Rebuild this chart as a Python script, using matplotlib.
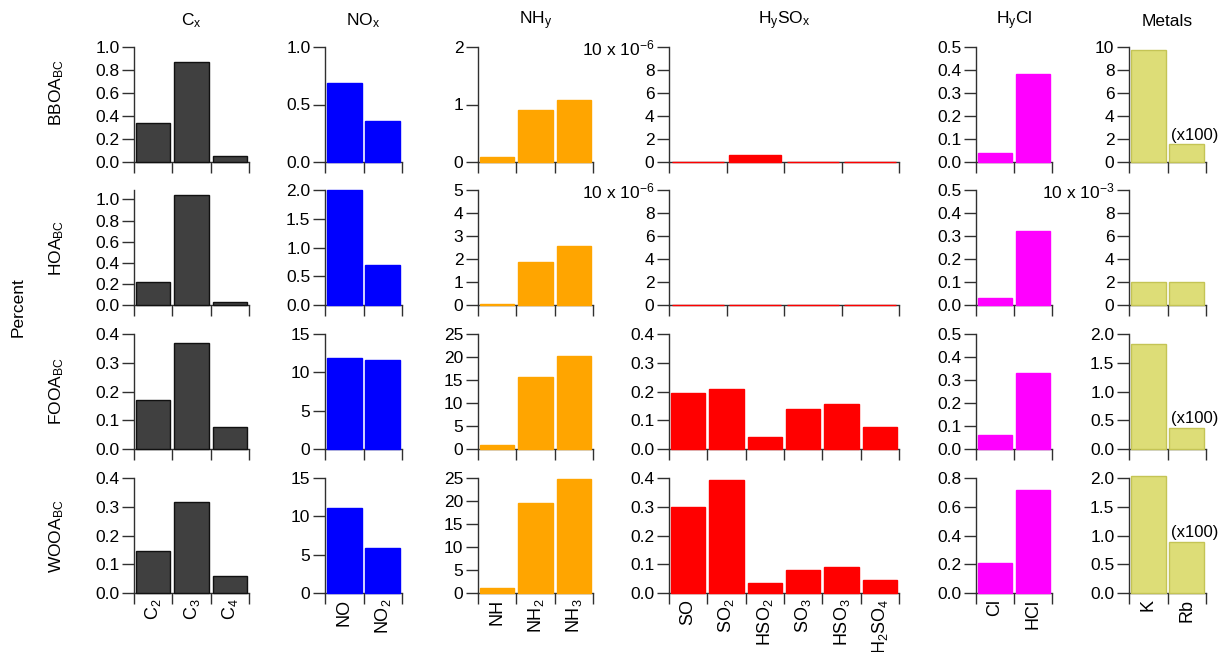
import matplotlib
matplotlib.use("Agg")
import matplotlib.pyplot as plt
import numpy as np
from matplotlib.ticker import FixedLocator, FuncFormatter

plt.rcParams['font.family'] = ['Liberation Sans', 'DejaVu Sans']
plt.rcParams['mathtext.default'] = 'regular'

# ---------------- data ----------------
factors = ['BBOA$_{BC}$', 'HOA$_{BC}$', 'FOOA$_{BC}$', 'WOOA$_{BC}$']
group_titles = ['C$_x$', 'NO$_x$', 'NH$_y$', 'H$_y$SO$_x$', 'H$_y$Cl', 'Metals']

cx_labels = ['C$_2$', 'C$_3$', 'C$_4$']
nox_labels = ['NO', 'NO$_2$']
nhy_labels = ['NH', 'NH$_2$', 'NH$_3$']
hysox_labels = ['SO', 'SO$_2$', 'HSO$_2$', 'SO$_3$', 'HSO$_3$', 'H$_2$SO$_4$']
hycl_labels = ['Cl', 'HCl']
metals_labels = ['K', 'Rb']

cx_values = [[0.336, 0.87, 0.052], [0.215, 1.04, 0.03], [0.17, 0.368, 0.078], [0.146, 0.318, 0.059]]
nox_values = [[0.69, 0.36], [2.0, 0.70], [11.9, 11.65], [11.04, 5.83]]
nhy_values = [[0.09, 0.91, 1.08], [0.05, 1.87, 2.55], [0.87, 15.7, 20.2], [1.15, 19.5, 24.7]]
# BBOA and HOA rows have only four H_ySO_x bins
hysox_values = [[0.0, 0.61e-6, 0.0, 0.0], [0.0, 0.0, 0.0, 0.0],
                [0.194, 0.208, 0.043, 0.138, 0.155, 0.078],
                [0.30, 0.393, 0.034, 0.08, 0.092, 0.045]]
hycl_values = [[0.04, 0.383], [0.03, 0.32], [0.061, 0.33], [0.21, 0.72]]
metals_values = [[9.74, 1.57], [2.0e-3, 2.0e-3], [1.83, 0.37], [2.03, 0.89]]  # Rb shown x100 where flagged
rb_x100 = [True, False, True, True]

# ---------------- layout / style ----------------
W, H = 1225, 652
col_px = [(134, 249), (325, 402), (478, 593), (669, 899), (976, 1052), (1129, 1206)]
row_px = [(47, 162), (190, 305), (334, 449), (478, 593)]
colors = ['#404040', '#0000FF', '#FFA500', '#FF0000', '#FF00FF', '#DDDD77']
edges = ['#111111', '#0000FF', '#FFA500', '#FF0000', '#FF00FF', '#C4C455']
row_label_y = [93, 248, 391, 536]

# y-axis settings per (row, col): (ymax, tick step, decimals, scale exponent)
yspec = [
    [(1.0, 0.2, 1, 0), (1.0, 0.5, 1, 0), (2, 1, 0, 0), (10e-6, 2e-6, 0, -6), (0.5, 0.1, 1, 0), (10, 2, 0, 0)],
    [(1.09, 0.2, 1, 0), (2.0, 0.5, 1, 0), (5, 1, 0, 0), (10e-6, 2e-6, 0, -6), (0.5, 0.1, 1, 0), (10e-3, 2e-3, 0, -3)],
    [(0.4, 0.1, 1, 0), (15, 5, 0, 0), (25, 5, 0, 0), (0.4, 0.1, 1, 0), (0.5, 0.1, 1, 0), (2.0, 0.5, 1, 0)],
    [(0.4, 0.1, 1, 0), (15, 5, 0, 0), (25, 5, 0, 0), (0.4, 0.1, 1, 0), (0.8, 0.2, 1, 0), (2.0, 0.5, 1, 0)],
]

all_values = [cx_values, nox_values, nhy_values, hysox_values, hycl_values, metals_values]
all_labels = [cx_labels, nox_labels, nhy_labels, hysox_labels, hycl_labels, metals_labels]

fig = plt.figure(figsize=(W / 100, H / 100), dpi=100)
spine_col = '#303030'


def make_formatter(step, dec, expo, top):
    def f(v, pos):
        if expo != 0:
            n = int(round(v / 10.0 ** expo))
            if abs(v - top) < step * 0.01:
                return '%d x 10$^{%d}$' % (n, expo)
            return '%d' % n
        return ('%.' + str(dec) + 'f') % v
    return FuncFormatter(f)


for r in range(4):
    t, b = row_px[r]
    for c in range(6):
        l, rr = col_px[c]
        ax = fig.add_axes([l / W, 1 - b / H, (rr - l) / W, (b - t) / H])
        vals = all_values[c][r]
        n = len(vals)
        x = np.arange(n) + 0.5
        ax.bar(x, vals, width=0.9, color=colors[c], edgecolor=edges[c],
               linewidth=1.0, zorder=3, clip_on=False)
        ax.set_xlim(0, n)
        ymax, step, dec, expo = yspec[r][c]
        ax.set_ylim(0, ymax)
        ticks = np.arange(0, ymax + step * 0.01, step)
        ax.yaxis.set_major_locator(FixedLocator(ticks))
        ax.yaxis.set_major_formatter(make_formatter(step, dec, expo, ticks[-1]))
        for s in ['top', 'right']:
            ax.spines[s].set_visible(False)
        for s in ['left', 'bottom']:
            ax.spines[s].set_color(spine_col)
            ax.spines[s].set_linewidth(1.0)
        ax.tick_params(axis='y', direction='out', length=8.5, width=1.0, pad=2,
                       labelsize=12.5, color=spine_col)
        ax.set_xticks(np.arange(n + 1))
        ax.tick_params(axis='x', which='major', direction='out', length=8, width=1.0,
                       color=spine_col, labelbottom=False)
        if r == 3:
            ax.set_xticks(x, minor=True)
            ax.set_xticklabels(all_labels[c], minor=True, rotation=90, fontsize=13)
            ax.tick_params(axis='x', which='minor', length=0, pad=4)
        if c == 5 and rb_x100[r]:
            ax.annotate('(x100)', xy=(1.1, vals[1]), xytext=(0, 1), textcoords='offset points',
                        ha='left', va='bottom', fontsize=12, annotation_clip=False)

# column titles
for c in range(6):
    l, rr = col_px[c]
    fig.text((l + rr) / 2 / W, 1 - 21 / H, group_titles[c], ha='center', va='center', fontsize=12.5)

# row labels
for r in range(4):
    fig.text(57 / W, 1 - row_label_y[r] / H, factors[r], rotation=90, ha='center', va='center', fontsize=12.5)

fig.text(18.5 / W, 1 - 307 / H, 'Percent', rotation=90, ha='center', va='center', fontsize=12.5)

fig.savefig('out.png', dpi=100)
